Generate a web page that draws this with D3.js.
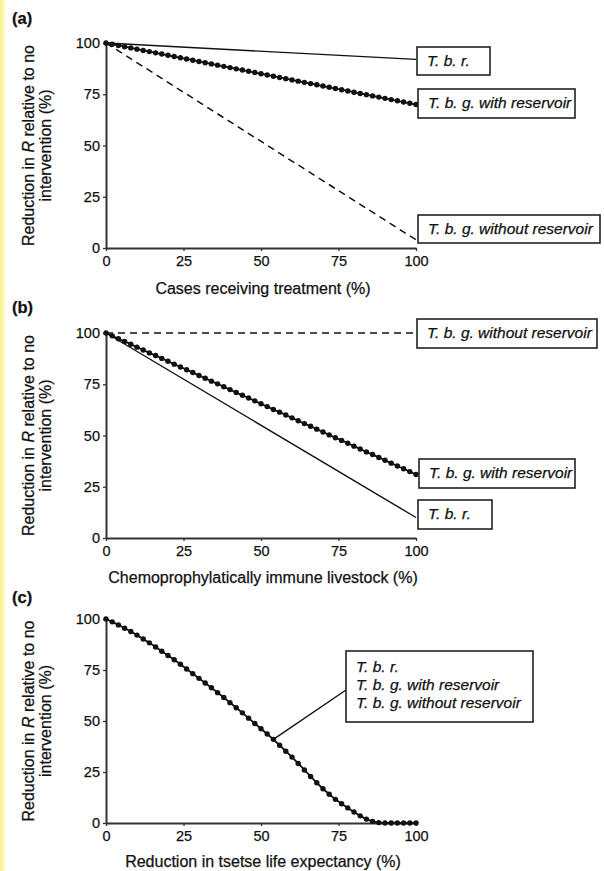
<!DOCTYPE html>
<html><head><meta charset="utf-8">
<script src="https://cdn.jsdelivr.net/npm/d3@7/dist/d3.min.js"></script>
<style>
body{margin:0;background:#fff}
svg{display:block}
text{font-family:"Liberation Sans",Arial,sans-serif;fill:#111;stroke:#111;stroke-width:0.25px}
</style>
</head><body>
<svg id="chart" width="604" height="871"></svg>
<script>
// ---------- data ----------
const xValues = [0,2,4,6,8,10,12,14,16,18,20,22,24,26,28,30,32,34,36,38,40,42,44,46,48,50,52,54,56,58,60,62,64,66,68,70,72,74,76,78,80,82,84,86,88,90,92,94,96,98,100];
const endX = [0, 100];
const tickValues = [0, 25, 50, 75, 100];

// panel (a): cases receiving treatment
const aTbr = [100, 92];
const aWithoutRes = [100, 4];
const aWithRes = [100,99.4,98.8,98.2,97.6,97.0,96.4,95.8,95.2,94.6,94.0,93.4,92.8,92.2,91.6,91.0,90.4,89.8,89.2,88.6,88.0,87.4,86.8,86.2,85.6,85.0,84.4,83.8,83.2,82.6,82.0,81.4,80.8,80.2,79.6,79.0,78.4,77.8,77.2,76.6,76.0,75.4,74.8,74.2,73.6,73.0,72.4,71.8,71.2,70.6,70.0];

// panel (b): chemoprophylactically immune livestock
const bTbr = [100, 10];
const bWithoutRes = [100, 100];
const bWithRes = [100,98.6,97.2,95.9,94.5,93.1,91.7,90.3,89.0,87.6,86.2,84.8,83.4,82.1,80.7,79.3,77.9,76.5,75.2,73.8,72.4,71.0,69.6,68.3,66.9,65.5,64.1,62.7,61.4,60.0,58.6,57.2,55.8,54.5,53.1,51.7,50.3,48.9,47.6,46.2,44.8,43.4,42.0,40.7,39.3,37.9,36.5,35.1,33.8,32.4,31.0];

// panel (c): reduction in tsetse life expectancy (all three identical)
const cAll = [100,98.6,97.1,95.5,93.9,92.1,90.2,88.3,86.3,84.2,82.1,80.0,77.8,75.5,73.2,70.9,68.6,66.3,63.9,61.5,59.0,56.5,54.0,51.4,48.8,46.2,43.6,41.0,38.1,35.2,32.3,29.2,26.0,22.8,19.7,16.8,14.1,11.6,9.4,7.4,5.4,3.5,1.9,0.8,0.2,0,0,0,0,0,0];

const labelTbr = "T. b. r.";
const labelWith = "T. b. g. with reservoir";
const labelWithout = "T. b. g. without reservoir";

// ---------- layout ----------
const svg = d3.select("#chart");
const defs = svg.append("defs");
const grad = defs.append("linearGradient").attr("id","edge").attr("x1","0").attr("x2","1");
grad.append("stop").attr("offset","0").attr("stop-color","#f6f08a");
grad.append("stop").attr("offset","0.6").attr("stop-color","#fbf9c8");
grad.append("stop").attr("offset","1").attr("stop-color","#ffffff");
svg.append("rect").attr("x",0).attr("y",0).attr("width",7).attr("height",871).attr("fill","url(#edge)");

const x = d3.scaleLinear().domain([0,100]).range([106,416]);

const panels = [
  {key:"a", label:"(a)", labelY:18, top:43, bottom:248, xTitle:"Cases receiving treatment (%)", xTitleY:288},
  {key:"b", label:"(b)", labelY:307, top:333, bottom:538, xTitle:"Chemoprophylatically immune livestock (%)", xTitleY:577},
  {key:"c", label:"(c)", labelY:597, top:619, bottom:823, xTitle:"Reduction in tsetse life expectancy (%)", xTitleY:861}
];

panels.forEach(p => {
  p.y = d3.scaleLinear().domain([0,100]).range([p.bottom, p.top]);
  const g = svg.append("g");
  g.append("text").attr("x",12).attr("y",p.labelY).attr("dy","0.35em")
    .attr("font-size","16.5px").attr("font-weight","bold").text(p.label);
  const xa = g.append("g").attr("transform",`translate(0,${p.bottom})`)
    .call(d3.axisBottom(x).tickValues(tickValues).tickSize(3).tickSizeOuter(0).tickPadding(5));
  const ya = g.append("g").attr("transform",`translate(106,0)`)
    .call(d3.axisLeft(p.y).tickValues(tickValues).tickSize(3).tickSizeOuter(0).tickPadding(3));
  [xa, ya].forEach(a => {
    a.select(".domain").attr("stroke","#333").attr("stroke-width",2);
    a.selectAll(".tick line").attr("stroke","#333").attr("stroke-width",1.3);
    a.selectAll(".tick text").attr("font-size","14.5px").attr("fill","#111")
      .attr("font-family",'"Liberation Sans",Arial,sans-serif');
  });
  g.append("text").attr("x",263).attr("y",p.xTitleY).attr("dy","0.35em")
    .attr("text-anchor","middle").attr("font-size","16px").text(p.xTitle);
  const cy = (p.top + p.bottom) / 2;
  const t1 = g.append("text").attr("transform",`translate(28,${cy}) rotate(-90)`)
    .attr("text-anchor","middle").attr("dy","0.35em").attr("font-size","16px");
  t1.append("tspan").text("Reduction in ");
  t1.append("tspan").attr("font-style","italic").text("R");
  t1.append("tspan").text(" relative to no");
  g.append("text").attr("transform",`translate(45,${cy}) rotate(-90)`)
    .attr("text-anchor","middle").attr("dy","0.35em").attr("font-size","16px").text("intervention (%)");
  p.g = g;
});

function straight(p, vals, dash, width) {
  const line = d3.line().x((d,i)=>x(endX[i])).y(d=>p.y(d));
  p.g.append("path").datum(vals).attr("d",line).attr("fill","none")
    .attr("stroke","#111").attr("stroke-width",width)
    .attr("stroke-dasharray", dash ? "7,5" : null);
}
function dotted(p, vals) {
  const line = d3.line().x((d,i)=>x(xValues[i])).y(d=>p.y(d));
  p.g.append("path").datum(vals).attr("d",line).attr("fill","none")
    .attr("stroke","#111").attr("stroke-width",1.8);
  p.g.selectAll(null).data(vals).enter().append("circle")
    .attr("cx",(d,i)=>x(xValues[i])).attr("cy",d=>p.y(d)).attr("r",2.7).attr("fill","#111");
}
function box(p, bx, by, w, h, lines) {
  p.g.append("rect").attr("x",bx).attr("y",by).attr("width",w).attr("height",h)
    .attr("fill","#fff").attr("stroke","#222").attr("stroke-width",1.6);
  lines.forEach((t,i) => {
    p.g.append("text").attr("x",bx+10).attr("y",by + 14 + i*18 + (lines.length===1?0:2)).attr("dy","0.35em")
      .attr("font-size","15.5px").attr("font-style","italic").text(t);
  });
}

const [pa, pb, pc] = panels;

// panel (a)
straight(pa, aWithoutRes, true, 1.5);
straight(pa, aTbr, false, 1.4);
dotted(pa, aWithRes);
box(pa, 417, 47, 73, 28, [labelTbr]);
box(pa, 418, 89, 157, 29, [labelWith]);
box(pa, 418, 215, 182, 28, [labelWithout]);

// panel (b)
straight(pb, bWithoutRes, true, 1.5);
straight(pb, bTbr, false, 1.4);
dotted(pb, bWithRes);
box(pb, 417, 319, 180, 29, [labelWithout]);
box(pb, 419, 459, 156, 29, [labelWith]);
box(pb, 418, 500, 74, 29, [labelTbr]);

// panel (c)
dotted(pc, cAll);
const ci = xValues.indexOf(54);
pc.g.append("line").attr("x1",x(xValues[ci])).attr("y1",pc.y(cAll[ci]))
  .attr("x2",346).attr("y2",690).attr("stroke","#111").attr("stroke-width",1.4);
box(pc, 346, 651, 187, 71, [labelTbr, labelWith, labelWithout]);
</script>
</body></html>
